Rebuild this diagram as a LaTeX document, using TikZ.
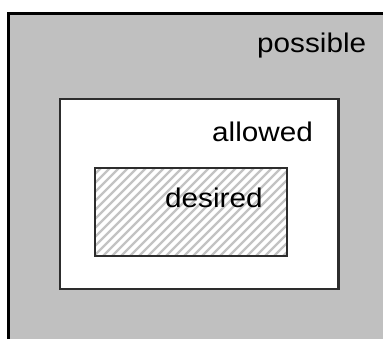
\documentclass[tikz,border=0pt]{standalone}
\usepackage{fontspec}
\setmainfont{Liberation Sans}
\newfontfamily\labelfont[FakeStretch=1.1]{Liberation Sans}
\definecolor{possgray}{RGB}{192,192,192}
\definecolor{hatchgray}{RGB}{195,195,195}
\definecolor{edgedark}{RGB}{45,45,45}
\begin{document}
\begin{tikzpicture}[x=1pt,y=-1pt,
  lbl/.style={anchor=base west, inner sep=0pt, font=\labelfont\fontsize{27}{30}\selectfont},
  boxedge/.style={draw=edgedark, line width=2.6pt}]
\useasboundingbox (0,0) rectangle (383,338);
\clip (0,0) rectangle (383,338);
\fill[white] (0,0) rectangle (383,338);
% possible region
\draw[fill=possgray, draw=black, line width=3pt] (8,13) rectangle (400,360);
% allowed region
\draw[boxedge, fill=white] (60,99) rectangle (338.5,289);
% desired region (hatched)
\fill[white] (95,168) rectangle (287,256);
\begin{scope}
  \clip (95,168) rectangle (287,256);
  \foreach \k in {0,...,36} {
    \draw[hatchgray, line width=2.3pt] ({95+9*\k-100},256) -- ({95+9*\k},156);
  }
\end{scope}
\draw[draw=edgedark, line width=2pt] (95,168) rectangle (287,256);
% labels
\node[lbl] (possible) at (257,52) {possible};
\node[lbl] (allowed) at (212,141.5) {allowed};
\node[lbl] (desired) at (165,207) {desired};
\end{tikzpicture}
\end{document}
